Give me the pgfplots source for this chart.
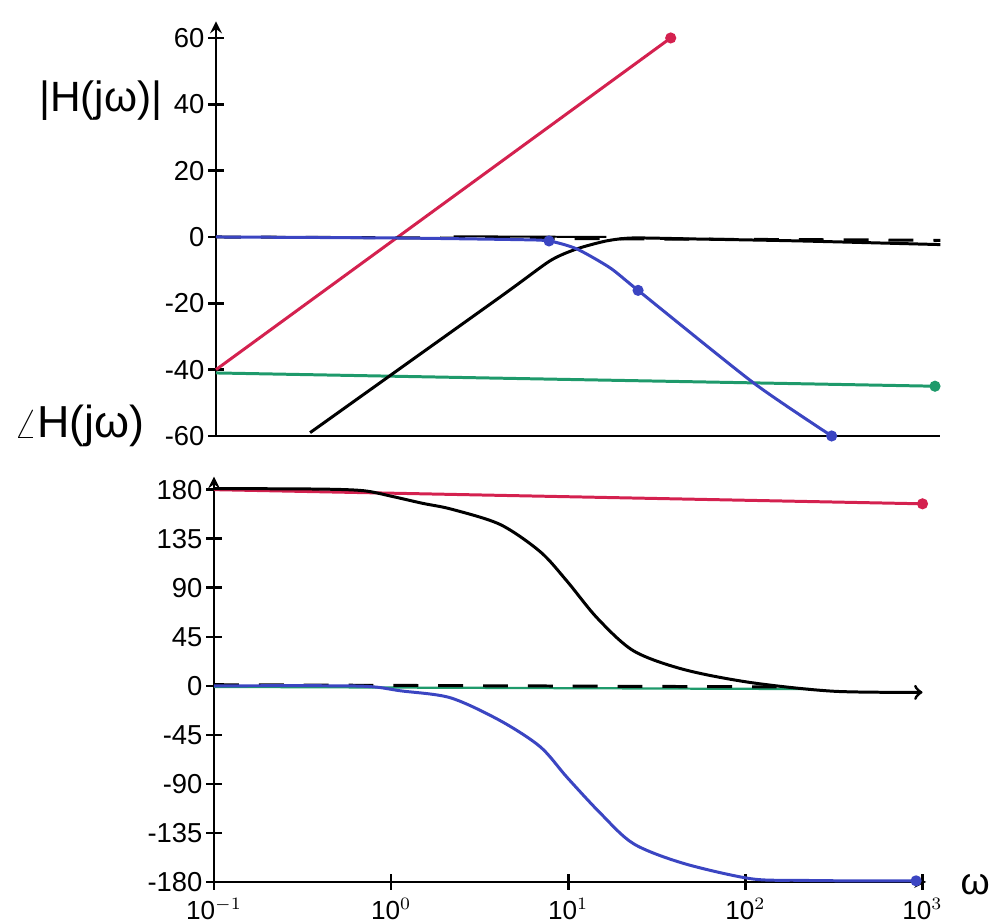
\documentclass[border=0pt]{standalone}
\usepackage{fontspec}
\setmainfont{Liberation Sans}
\usepackage{pgfplots}
\pgfplotsset{compat=1.18}
\definecolor{bred}{HTML}{D4214F}
\definecolor{bblue}{HTML}{3B45C2}
\definecolor{bgreen}{HTML}{1E9A6B}

\begin{document}
\begin{tikzpicture}
\useasboundingbox (-3.02,-0.593) rectangle (10.978,12.445);

% phase
\begin{axis}[at={(0,0)}, anchor=south west,
  scale only axis, width=10.05cm, height=5.72cm,
  xmode=log, axis lines=left, clip=false,
  axis line style={line width=1.1pt},
  tick align=center, major tick length=0.22cm,
  tick style={black, line width=1pt},
  xminorticks=false,
  tick label style={font=\fontsize{11}{12}\selectfont},
  yticklabel style={xshift=2pt},
  xticklabel style={yshift=0pt, font=\fontsize{10.5}{12}\selectfont},
  /pgf/number format/assume math mode=true,
  xmin=0.1, xmax=1050, ymin=-180, ymax=192,
  ytick={-180,-135,-90,-45,0,45,90,135,180},
  xtick={0.1,1,10,100,1000},
  xticklabels={10$^{-1}$,10$^{0}$,10$^{1}$,10$^{2}$,10$^{3}$},
]
  \addplot[bred, line width=1.2pt, mark=*, mark size=1.6pt, mark indices={2}] coordinates {(0.1,180) (1000,167)};
  \addplot[bgreen, line width=0.9pt] coordinates {(0.1,-1) (230,-3)};
  \addplot[black, line width=1.2pt, dash pattern=on 10pt off 8pt] coordinates {(0.1,1) (150,-1)};
  \addplot[black, line width=1.2pt, smooth, tension=0.5, -{>[scale=1.3]}] coordinates {
    (0.1,181) (0.4,180.5) (0.7,179) (1.0,174) (1.5,167.5) (2.2,162) (4.13,148) (6.95,123)
    (9.84,96) (14.6,62) (23.4,32) (44.8,15) (107,3) (315,-5) (1000,-6)
  };
  \addplot[bblue, line width=1.2pt, smooth, tension=0.5, mark=*, mark size=1.6pt, mark indices={15}] coordinates {
    (0.1,0) (0.5,0) (0.8,-1) (1.13,-4.6) (2.16,-11) (4.13,-32) (6.95,-56) (9.84,-84)
    (15.2,-117) (23.4,-145) (44.8,-163) (107,-177) (200,-178.5) (400,-179) (920,-179)
  };
\end{axis}

% magnitude
\begin{axis}[at={(0.028cm,6.293cm)}, anchor=south west,
  scale only axis, width=10.22cm, height=5.85cm,
  xmode=log, axis lines=left, clip=false,
  axis line style={line width=1.1pt},
  x axis line style={-},
  tick align=center, major tick length=0.22cm,
  tick style={black, line width=1pt},
  tick label style={font=\fontsize{11}{12}\selectfont},
  yticklabel style={xshift=2pt},
  /pgf/number format/assume math mode=true,
  xmin=0.1, xmax=1232, ymin=-60, ymax=65,
  xtick=\empty,
  ytick={-60,-40,-20,0,20,40,60},
]
  \addplot[bred, line width=1.2pt, mark=*, mark size=1.6pt, mark indices={2}] coordinates {(0.1,-40) (37,60)};
  \addplot[bgreen, line width=1.2pt, mark=*, mark size=1.6pt, mark indices={2}] coordinates {(0.1,-41) (1150,-45)};
  \addplot[black, line width=1.2pt, dash pattern=on 10pt off 8pt] coordinates {(0.1,0) (1232,-1)};
  \addplot[black, line width=0.8pt] coordinates {(2.2,0.2) (16,0)};
  \addplot[black, line width=1.2pt, smooth, tension=0.4] coordinates {
    (0.34,-59) (4,-18.2) (7.7,-7.2) (10.9,-3.6) (16,-1.2) (22.6,-0.3) (50,-0.6) (200,-1.2) (1232,-2.3)
  };
  \addplot[bblue, line width=1.2pt, smooth, tension=0.4, mark=*, mark size=1.6pt, mark indices={4,7,9}] coordinates {
    (0.1,0) (1,-0.3) (5,-0.8) (7.6,-1.2) (10.9,-3.6) (16.8,-9.3) (24.2,-16.1) (108,-43.9) (300,-60)
  };
\end{axis}

\node[font=\fontsize{17}{20}\selectfont] at (-1.60,11.03) {|H(jω)|};
\node[font=\fontsize{18}{20}\selectfont] at (-1.90,6.43) {$\angle$H(jω)};
\node[font=\fontsize{15}{18}\selectfont] at (10.74,-0.04) {ω};
\end{tikzpicture}
\end{document}
